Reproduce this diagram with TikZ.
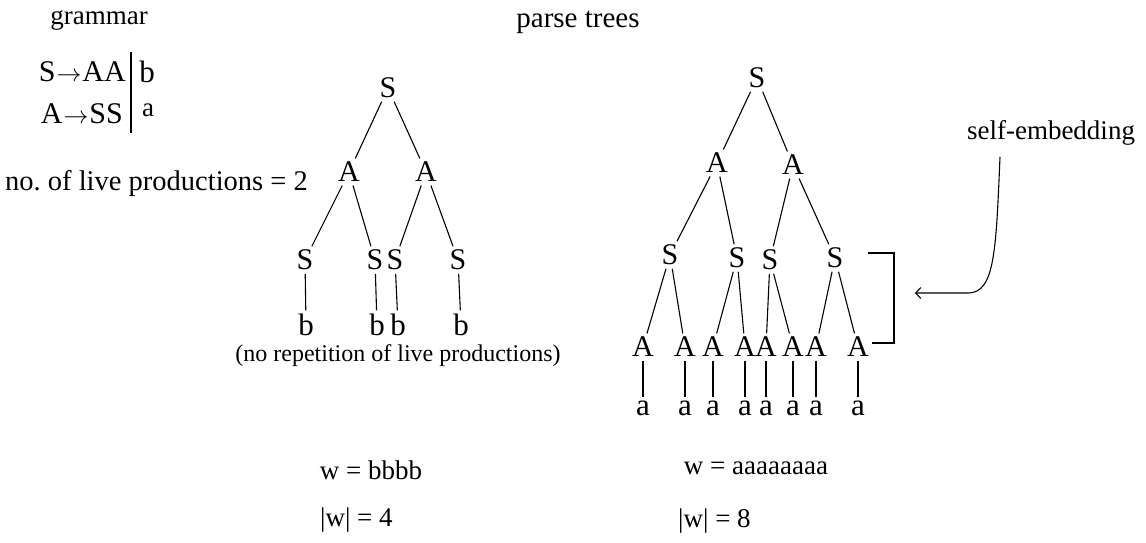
\documentclass[tikz,border=0pt]{standalone}
\usepackage{fontspec}
\setmainfont{Liberation Serif}
\usetikzlibrary{arrows.meta}
\newcommand{\fs}[1]{\fontsize{#1}{#1}\selectfont}
\frenchspacing
\begin{document}
\begin{tikzpicture}[x=1pt,y=-1pt,
  tn/.style={inner sep=2.5pt, font=\fs{30}},
  lf/.style={inner sep=2.5pt, font=\fs{31}},
  lbl/.style={inner sep=0pt, font=\fs{27}},
  ed/.style={line width=1.1pt, shorten <=1pt, shorten >=1pt}]
\useasboundingbox (0,0) rectangle (1146,542);
% grammar
\node[lbl] (gram) at (99,20) {grammar};
\node[lbl, anchor=east, font=\fs{30}] (g1) at (126,72) {S\kern1pt$\rightarrow$\kern1ptAA};
\node[lbl, anchor=east, font=\fs{30}] (g2) at (123,114) {A\kern1pt$\rightarrow$\kern1ptSS};
\draw[line width=1.1pt] (131,52) -- (131,133);
\node[lbl, font=\fs{31}] (g1b) at (147,72) {b};
\node[lbl, font=\fs{27}] (g2a) at (148,110) {a};
\node[lbl, anchor=west, font=\fs{28.5}] (live) at (5,183) {no. of live productions = 2};
\node[lbl, font=\fs{29}] (pt) at (578,22) {parse trees};
% left tree
\node[tn] (s0) at (388,88) {S};
\node[tn] (a1) at (349,172) {A};
\node[tn] (a2) at (426,172) {A};
\node[tn] (s1) at (305,260) {S};
\node[tn] (s2) at (375,260) {S};
\node[tn] (s3) at (395,260) {S};
\node[tn] (s4) at (458,260) {S};
\node[lf] (b1) at (306,325) {b};
\node[lf] (b2) at (377,325) {b};
\node[lf] (b3) at (398,325) {b};
\node[lf] (b4) at (461,325) {b};
\foreach \p/\c in {s0/a1,s0/a2,a1/s1,a1/s2,a2/s3,a2/s4,s1/b1,s2/b2,s3/b3,s4/b4}
  \draw[ed] (\p) -- (\c);
\node[lbl, font=\fs{24}] (norep) at (398,356) {(no repetition of live productions)};
\node[lbl] (w1) at (371,470) {w = bbbb};
\node[lbl, anchor=west] (n1) at (320,520) {|w| = 4};
% right tree
\node[tn] (r0) at (757,78) {S};
\node[tn] (ra1) at (717,163) {A};
\node[tn] (ra2) at (793,165) {A};
\node[tn] (rs1) at (670,255) {S};
\node[tn] (rs2) at (737,258) {S};
\node[tn] (rs3) at (770,260) {S};
\node[tn] (rs4) at (835,258) {S};
\foreach \i/\x in {1/643,2/685,3/713,4/745,5/766,6/793,7/816,8/858}{
  \node[tn] (A\i) at (\x,347) {A};
  \node[lf] (L\i) at (\x,408) {a};
  \draw[ed] (A\i) -- (L\i);
}
\foreach \p/\c in {r0/ra1,r0/ra2,ra1/rs1,ra1/rs2,ra2/rs3,ra2/rs4,rs1/A1,rs1/A2,rs2/A3,rs2/A4,rs3/A5,rs3/A6,rs4/A7,rs4/A8}
  \draw[ed] (\p) -- (\c);
\node[lbl] (w2) at (756,468) {w = aaaaaaaa};
\node[lbl, anchor=west] (n2) at (678,521) {|w| = 8};
% bracket and self-embedding
\coordinate (bt) at (868,253);
\coordinate (bb) at (872,343);
\draw[line width=1.1pt] (bt) -- ++(26,0) |- (bb);
\node[lbl] (se) at (1051,133) {self-embedding};
\coordinate (st) at (1000,157);
\coordinate (ah) at (915,293);
\draw[line width=1.1pt, -{Straight Barb[length=5pt,width=11pt]}]
  (st) .. controls (996,250) and (995,293) .. (968,293) -- (ah);
\end{tikzpicture}
\end{document}
